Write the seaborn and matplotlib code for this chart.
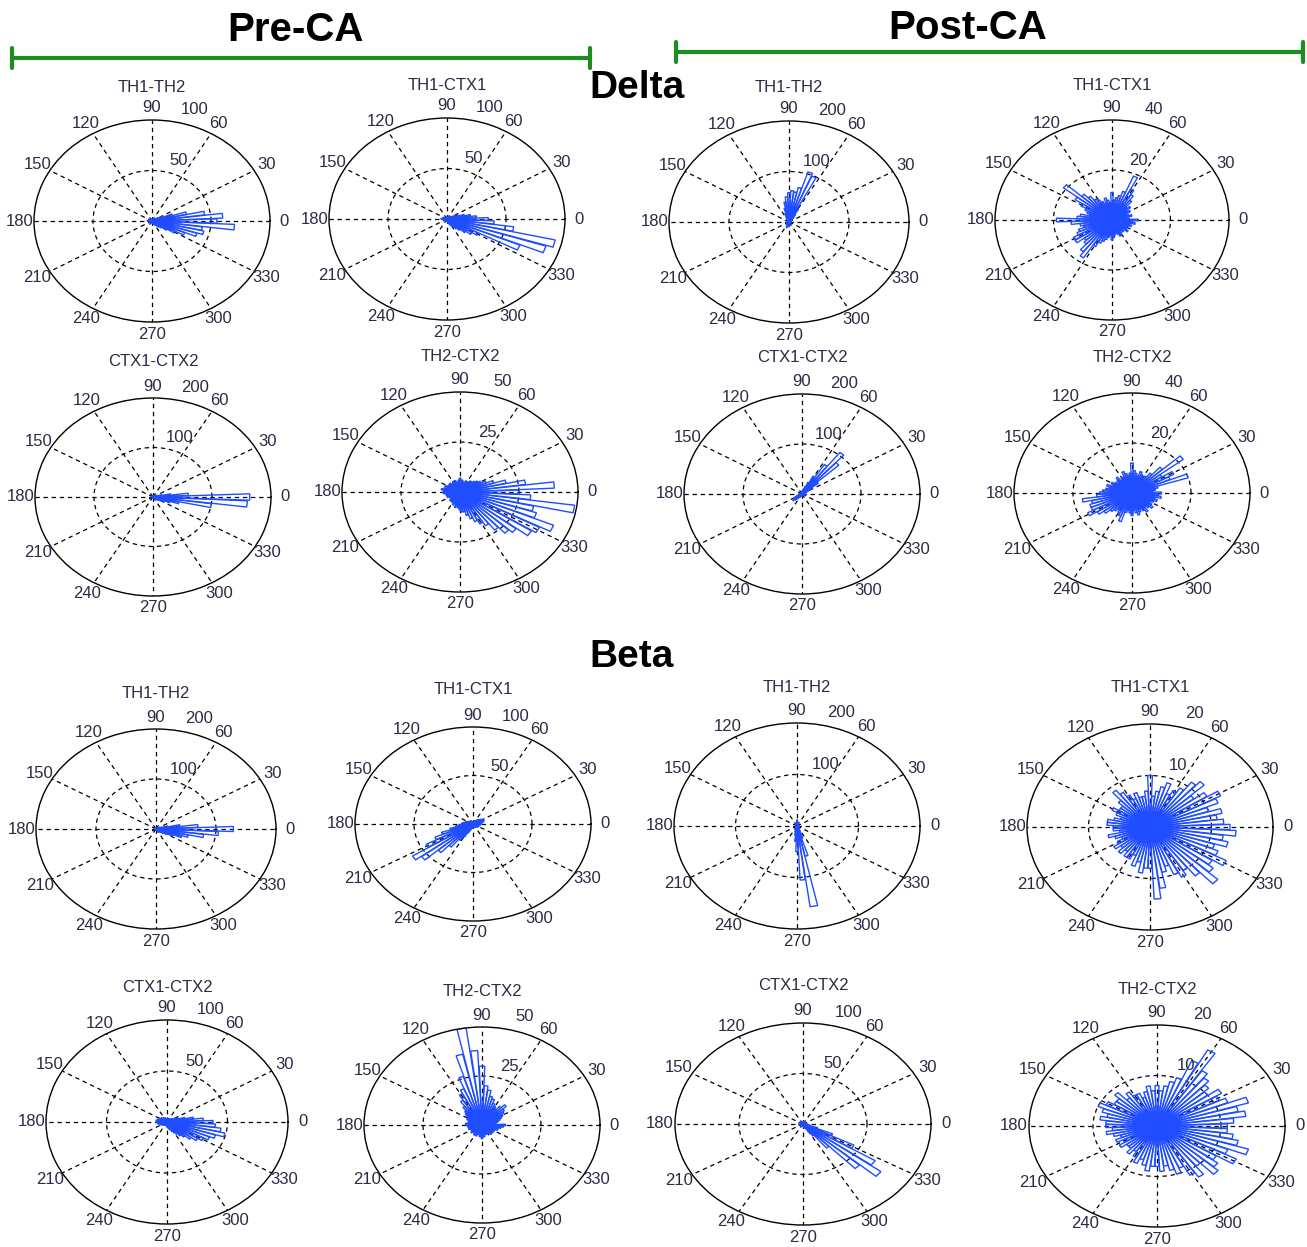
import numpy as np
import matplotlib
matplotlib.use("Agg")
import matplotlib.pyplot as plt
import seaborn as sns

sns.set_style("white")
plt.rcParams['font.family'] = ['Liberation Sans', 'DejaVu Sans']

# phase bins (degrees), 5 degree rose bins
bin_deg = list(range(0, 360, 5))

# ---- Delta, Pre-CA ----
pre_delta_th1_th2 = [55, 60, 45, 30, 18, 10, 6, 4, 3, 2, 2, 2,
                     2, 2, 1, 1, 2, 1, 2, 1, 1, 1, 2, 1,
                     1, 2, 1, 1, 2, 1, 1, 2, 1, 2, 3, 4,
                     4, 3, 2, 2, 1, 2, 1, 1, 2, 1, 2, 1,
                     2, 1, 1, 2, 1, 1, 2, 1, 2, 2, 3, 3,
                     4, 5, 6, 8, 10, 15, 22, 30, 40, 45, 43, 70]
pre_delta_th1_ctx1 = [35, 25, 20, 15, 10, 8, 5, 4, 3, 2, 2, 2,
                      2, 1, 1, 2, 1, 1, 2, 1, 1, 1, 2, 1,
                      1, 1, 2, 1, 1, 2, 1, 2, 2, 3, 4, 5,
                      5, 4, 3, 2, 2, 1, 2, 1, 1, 2, 1, 2,
                      1, 2, 1, 2, 1, 2, 2, 3, 3, 4, 5, 6,
                      8, 10, 12, 15, 20, 25, 30, 67, 88, 94, 57, 40]
pre_delta_ctx1_ctx2 = [164, 60, 30, 15, 8, 5, 4, 3, 2, 2, 2, 2,
                       2, 2, 1, 1, 2, 1, 1, 1, 2, 1, 1, 1,
                       1, 1, 1, 2, 1, 1, 1, 2, 1, 2, 2, 3,
                       3, 2, 2, 1, 1, 1, 2, 1, 1, 1, 1, 2,
                       1, 1, 2, 1, 1, 1, 2, 1, 2, 2, 2, 3,
                       3, 4, 5, 6, 8, 10, 14, 20, 30, 45, 100, 160]
pre_delta_th2_ctx2 = [25, 40, 28, 20, 15, 12, 10, 9, 8, 7, 7, 6,
                      6, 6, 5, 5, 6, 6, 7, 6, 5, 5, 6, 6,
                      6, 5, 5, 6, 6, 5, 6, 7, 6, 7, 8, 7,
                      7, 7, 6, 6, 5, 6, 5, 5, 5, 6, 6, 6,
                      6, 7, 6, 8, 7, 8, 9, 10, 10, 12, 14, 16,
                      18, 20, 24, 28, 30, 36, 38, 43, 34, 32, 49, 30]

# ---- Delta, Post-CA ----
post_delta_th1_th2 = [3, 2, 2, 2, 3, 3, 4, 5, 6, 8, 12, 18,
                      30, 98, 104, 70, 60, 62, 58, 50, 40, 28, 18, 12,
                      8, 5, 4, 3, 3, 2, 2, 2, 2, 2, 2, 3,
                      3, 2, 2, 2, 3, 3, 4, 4, 5, 6, 6, 5,
                      8, 10, 12, 10, 8, 8, 6, 5, 4, 4, 3, 3,
                      3, 2, 2, 2, 2, 2, 3, 3, 2, 2, 3, 3]
post_delta_th1_ctx1 = [9, 6, 5, 7, 6, 5, 7, 6, 8, 7, 10, 12,
                       14, 19, 12, 10, 9, 8, 11, 7, 8, 9, 7, 8,
                       9, 10, 12, 14, 21, 15, 12, 10, 9, 8, 11, 12,
                       19, 14, 11, 10, 12, 13, 15, 15, 12, 13, 16, 18,
                       12, 10, 9, 8, 7, 6, 8, 7, 6, 5, 6, 7,
                       6, 5, 6, 5, 7, 6, 5, 6, 7, 6, 8, 7]
post_delta_ctx1_ctx2 = [5, 4, 4, 5, 6, 8, 12, 20, 35, 85, 105, 70,
                        40, 25, 15, 10, 8, 6, 5, 4, 4, 3, 3, 3,
                        3, 2, 2, 3, 2, 2, 3, 2, 2, 3, 3, 4,
                        4, 5, 5, 6, 8, 10, 14, 18, 20, 16, 12, 8,
                        6, 5, 4, 3, 3, 2, 3, 2, 3, 3, 3, 4,
                        3, 3, 3, 4, 4, 3, 4, 4, 5, 4, 5, 5]
post_delta_th2_ctx2 = [10, 7, 8, 9, 20, 14, 16, 12, 22, 14, 10, 8,
                       7, 8, 9, 7, 8, 9, 12, 8, 7, 8, 9, 7,
                       7, 6, 8, 7, 6, 7, 8, 7, 9, 8, 9, 10,
                       11, 12, 17, 14, 15, 15, 17, 14, 12, 10, 9, 8,
                       9, 10, 12, 8, 7, 8, 9, 7, 8, 9, 8, 7,
                       8, 9, 7, 8, 9, 8, 7, 8, 9, 8, 10, 9]

# ---- Beta, Pre-CA ----
pre_beta_th1_th2 = [129, 70, 40, 20, 10, 6, 4, 3, 3, 2, 2, 2,
                    2, 2, 2, 1, 1, 2, 1, 1, 1, 1, 1, 1,
                    1, 1, 1, 1, 1, 2, 1, 1, 2, 1, 2, 2,
                    2, 2, 1, 1, 1, 2, 1, 1, 1, 1, 1, 1,
                    1, 1, 1, 2, 1, 1, 1, 2, 2, 2, 3, 3,
                    4, 5, 6, 8, 10, 14, 20, 30, 45, 55, 80, 104]
pre_beta_th1_ctx1 = [6, 7, 8, 9, 10, 10, 9, 8, 7, 6, 5, 4,
                     4, 3, 3, 3, 2, 2, 2, 2, 2, 2, 3, 3,
                     3, 3, 3, 3, 4, 4, 5, 5, 6, 7, 8, 9,
                     10, 12, 15, 20, 28, 35, 45, 61, 55, 40, 30, 20,
                     15, 10, 7, 5, 4, 3, 3, 2, 2, 2, 3, 3,
                     3, 3, 4, 4, 4, 5, 5, 5, 5, 6, 6, 6]
pre_beta_ctx1_ctx2 = [38, 30, 22, 15, 10, 8, 6, 5, 4, 4, 3, 3,
                      3, 3, 3, 3, 4, 4, 3, 3, 3, 3, 4, 4,
                      4, 5, 5, 5, 6, 6, 7, 7, 8, 8, 9, 9,
                      9, 8, 8, 7, 6, 6, 5, 5, 4, 4, 3, 3,
                      3, 3, 3, 3, 4, 4, 5, 5, 6, 7, 8, 10,
                      12, 14, 17, 20, 25, 30, 34, 38, 42, 49, 45, 40]
pre_beta_th2_ctx2 = [10, 6, 6, 7, 8, 9, 10, 11, 12, 14, 12, 10,
                     11, 12, 14, 15, 18, 20, 30, 38, 50, 37, 26, 20,
                     18, 15, 12, 10, 9, 8, 7, 7, 6, 6, 6, 7,
                     7, 6, 6, 5, 6, 5, 5, 5, 6, 5, 5, 6,
                     6, 6, 5, 5, 6, 6, 7, 6, 6, 5, 5, 5,
                     5, 5, 6, 5, 6, 5, 6, 6, 7, 7, 8, 9]

# ---- Beta, Post-CA ----
post_beta_th1_th2 = [3, 2, 2, 2, 2, 2, 2, 2, 2, 3, 3, 3,
                     3, 4, 5, 6, 8, 10, 12, 8, 6, 5, 4, 3,
                     3, 2, 2, 2, 2, 2, 2, 2, 2, 2, 2, 2,
                     2, 2, 2, 2, 2, 2, 2, 2, 3, 3, 3, 4,
                     5, 6, 8, 12, 18, 30, 50, 105, 158, 60, 25, 12,
                     8, 6, 5, 4, 4, 3, 3, 3, 3, 3, 3, 3]
post_beta_th1_ctx1 = [13, 12, 11, 12, 10, 12, 13, 11, 9, 12, 11, 9,
                      8, 7, 9, 8, 7, 6, 10, 7, 6, 6, 7, 6,
                      7, 8, 9, 7, 6, 6, 7, 6, 5, 6, 7, 7,
                      6, 6, 5, 7, 6, 5, 6, 7, 6, 7, 6, 7,
                      7, 6, 8, 7, 9, 8, 8, 14, 12, 9, 8, 10,
                      11, 10, 12, 15, 13, 12, 14, 12, 11, 13, 12, 14]
post_beta_ctx1_ctx2 = [3, 3, 2, 2, 2, 2, 2, 2, 2, 2, 2, 2,
                       2, 2, 2, 2, 2, 2, 2, 2, 2, 2, 2, 2,
                       2, 2, 2, 2, 2, 2, 3, 3, 3, 3, 3, 3,
                       3, 3, 3, 3, 2, 2, 2, 2, 2, 2, 2, 2,
                       2, 2, 2, 2, 2, 2, 2, 3, 3, 3, 4, 5,
                       8, 14, 30, 60, 77, 67, 45, 25, 12, 6, 4, 3]
post_beta_th2_ctx2 = [11, 12, 14, 13, 15, 12, 11, 12, 10, 11, 12, 13,
                      17, 14, 10, 9, 8, 7, 8, 7, 8, 7, 6, 7,
                      7, 8, 7, 9, 8, 8, 9, 10, 9, 8, 9, 8,
                      8, 7, 8, 7, 6, 7, 6, 7, 6, 6, 7, 6,
                      7, 8, 7, 8, 9, 8, 8, 9, 8, 9, 10, 9,
                      11, 12, 10, 13, 12, 11, 14, 12, 15, 13, 12, 11]

titles = ["TH1-TH2", "TH1-CTX1", "TH1-TH2", "TH1-CTX1",
          "CTX1-CTX2", "TH2-CTX2", "CTX1-CTX2", "TH2-CTX2",
          "TH1-TH2", "TH1-CTX1", "TH1-TH2", "TH1-CTX1",
          "CTX1-CTX2", "TH2-CTX2", "CTX1-CTX2", "TH2-CTX2"]
r_max = [100, 100, 200, 40,
         200, 50, 200, 40,
         200, 100, 200, 20,
         100, 50, 100, 20]
panels = [pre_delta_th1_th2, pre_delta_th1_ctx1, post_delta_th1_th2, post_delta_th1_ctx1,
          pre_delta_ctx1_ctx2, pre_delta_th2_ctx2, post_delta_ctx1_ctx2, post_delta_th2_ctx2,
          pre_beta_th1_th2, pre_beta_th1_ctx1, post_beta_th1_th2, post_beta_th1_ctx1,
          pre_beta_ctx1_ctx2, pre_beta_th2_ctx2, post_beta_ctx1_ctx2, post_beta_th2_ctx2]

# layout in pixels: centre x, centre y, half width, half height, title y
boxes = [(152, 221, 118, 101, 87), (447, 219, 118, 101, 85), (789, 222, 120, 101, 88), (1112, 220, 117, 100, 86),
         (153, 497, 118, 99, 361), (460, 492, 118, 100, 357), (802, 494, 118, 100, 358), (1132, 493, 118, 100, 358),
         (156, 829, 120, 100, 694), (473, 824, 118, 97, 690), (797, 826, 123, 103, 688), (1150, 827, 123, 103, 688),
         (167, 1122, 121, 102, 988), (482, 1125, 118, 98, 991), (803, 1124, 128, 101, 985), (1157, 1126, 128, 101, 989)]

W, H = 1307, 1247
fig = plt.figure(figsize=(W / 100, H / 100), dpi=100)
fig.patch.set_facecolor("white")

label_col = "#2b2b45"
theta = np.deg2rad(bin_deg)
width = np.deg2rad(4.5)

for counts, rmax, title, (cx, cy, a, b, ty) in zip(panels, r_max, titles, boxes):
    ax = fig.add_axes([(cx - a) / W, 1 - (cy + b) / H, 2 * a / W, 2 * b / H], projection="polar")
    ax.set_aspect("auto")
    ax.set_facecolor("white")
    ax.bar(theta, counts, width=width, fill=False, edgecolor="#1f4dff", linewidth=1.0)
    ax.set_ylim(0, rmax)
    ax.set_thetagrids(range(0, 360, 30), labels=[""] * 12)
    ax.set_rgrids([rmax / 2], labels=[""])
    ax.grid(True, color="black", linestyle=(0, (3.5, 3)), linewidth=0.9)
    ax.spines["polar"].set_color("black")
    ax.spines["polar"].set_linewidth(1.0)
    for ang in range(0, 360, 30):
        ax.text(np.deg2rad(ang), rmax * 1.12, str(ang), ha="center", va="center",
                fontsize=12, color=label_col, clip_on=False)
    ax.text(np.deg2rad(69), rmax * 0.64, str(rmax // 2), ha="center", va="center",
            fontsize=12, color=label_col, clip_on=False)
    ax.text(np.deg2rad(72), rmax * 1.16, str(rmax), ha="center", va="center",
            fontsize=12, color=label_col, clip_on=False)
    fig.text(cx / W, 1 - ty / H, title, ha="center", va="center", fontsize=12, color=label_col)

# group headers
fig.text(295 / W, 1 - 30 / H, "Pre-CA", ha="center", va="center", fontsize=29,
         fontweight="bold", color="black")
fig.text(968 / W, 1 - 28 / H, "Post-CA", ha="center", va="center", fontsize=29,
         fontweight="bold", color="black")
fig.text(637 / W, 1 - 88 / H, "Delta", ha="center", va="center", fontsize=28,
         fontweight="bold", color="black")
fig.text(632 / W, 1 - 657 / H, "Beta", ha="center", va="center", fontsize=28,
         fontweight="bold", color="black")

green = "#1e8c1e"
for x0, x1, y in [(12, 590, 58), (676, 1303, 52)]:
    fig.add_artist(plt.Line2D([x0 / W, x1 / W], [1 - y / H, 1 - y / H], color=green, lw=3))
    for x in (x0, x1):
        fig.add_artist(plt.Line2D([x / W, x / W], [1 - (y - 10) / H, 1 - (y + 10) / H], color=green, lw=3))

plt.savefig("out.png", dpi=100)
